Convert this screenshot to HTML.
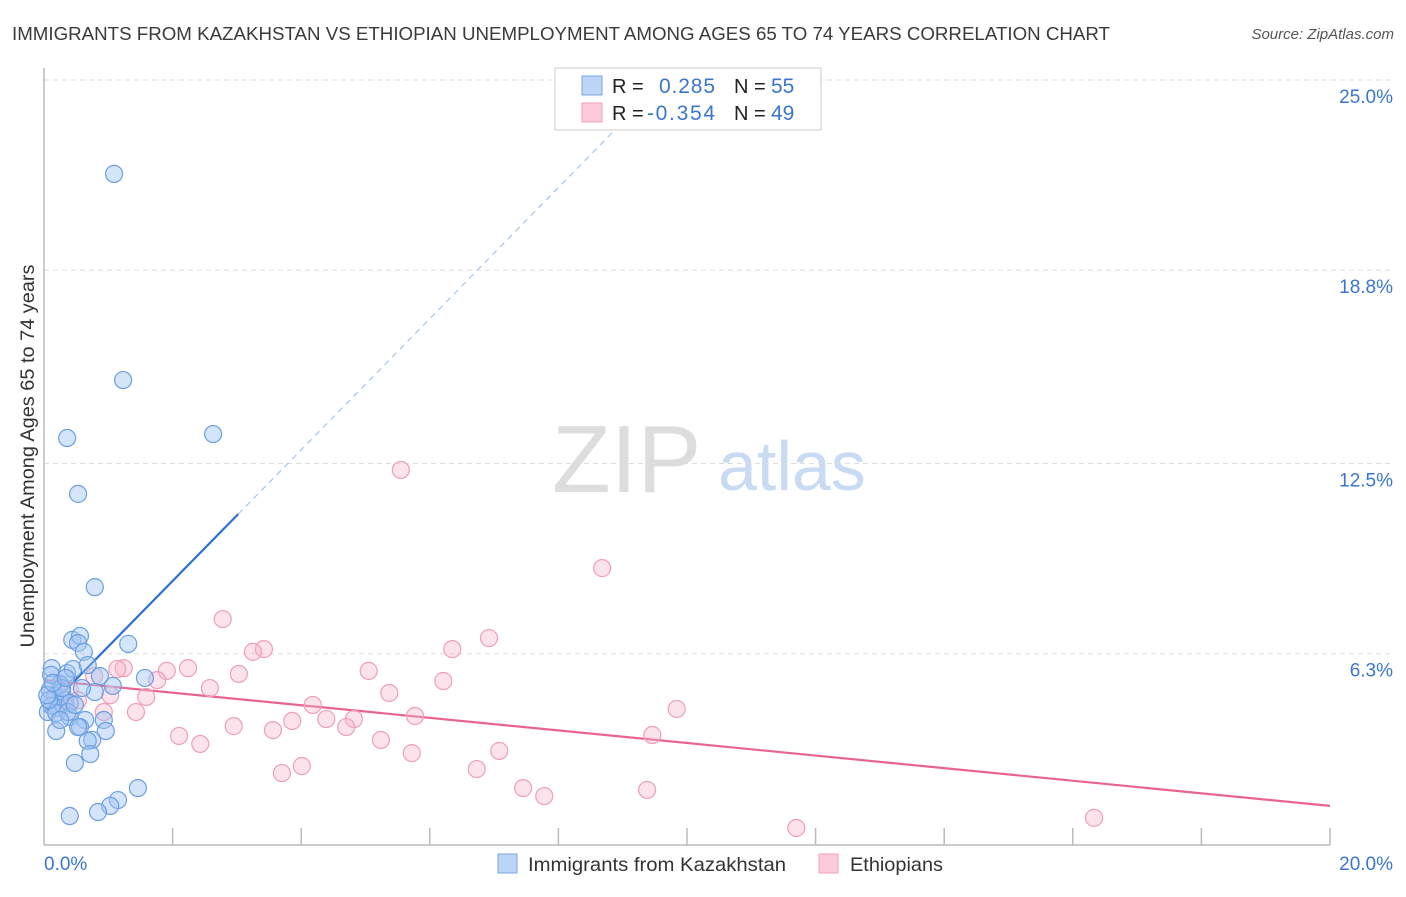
<!DOCTYPE html>
<html><head><meta charset="utf-8"><style>
body{margin:0;background:#fff;font-family:"Liberation Sans",sans-serif}
svg text{font-family:"Liberation Sans",sans-serif}
</style></head><body>
<svg id="chart" width="1406" height="892" xmlns="http://www.w3.org/2000/svg">
<text x="12" y="40" font-size="18.5" fill="#3a3a3a" textLength="1098" lengthAdjust="spacingAndGlyphs">IMMIGRANTS FROM KAZAKHSTAN VS ETHIOPIAN UNEMPLOYMENT AMONG AGES 65 TO 74 YEARS CORRELATION CHART</text>
<text x="1394" y="39" font-size="15" fill="#555" font-style="italic" text-anchor="end">Source: ZipAtlas.com</text>
<g>
<text x="552" y="492" font-size="96" font-family="Liberation Serif" fill="#ddd">ZIP</text>
<text x="718" y="490" font-size="70" fill="#c9daf3">atlas</text>
</g>
<g id="grid"></g>
<g id="axes"></g>
<g id="lines"></g>
<g id="pts"></g>
<text transform="translate(34,456) rotate(-90)" font-size="19" fill="#333" text-anchor="middle" textLength="383" lengthAdjust="spacingAndGlyphs">Unemployment Among Ages 65 to 74 years</text>
<g>
<rect x="555" y="68" width="266" height="62" fill="#fff" stroke="#ccc"/>
<rect x="582" y="76" width="20" height="19" fill="#bcd5f7" stroke="#7aa6e6"/>
<rect x="582" y="103" width="20" height="19" fill="#fccbdb" stroke="#f0a0bb"/>
<text x="612" y="93" font-size="20" fill="#222">R =</text><text x="659" y="93" font-size="21" fill="#3a76d0" textLength="56">0.285</text>
<text x="734" y="93" font-size="20" fill="#222">N =</text><text x="771" y="93" font-size="21" fill="#3a76d0">55</text>
<text x="612" y="120" font-size="20" fill="#222">R =</text><text x="647" y="120" font-size="21" fill="#3a76d0" textLength="68">-0.354</text>
<text x="734" y="120" font-size="20" fill="#222">N =</text><text x="771" y="120" font-size="21" fill="#3a76d0">49</text>
</g>
<g>
<rect x="498" y="854" width="19" height="19" fill="#bcd5f7" stroke="#7aa6e6"/>
<text x="528" y="871" font-size="19.5" fill="#333" textLength="258" lengthAdjust="spacingAndGlyphs">Immigrants from Kazakhstan</text>
<rect x="819" y="854" width="19" height="19" fill="#fccbdb" stroke="#f0a0bb"/>
<text x="850" y="871" font-size="19.5" fill="#333" textLength="93" lengthAdjust="spacingAndGlyphs">Ethiopians</text>
</g>
</svg>
<script>
const yTicks=[25.0,18.8,12.5,6.3];
const yTickLabels=["25.0%","18.8%","12.5%","6.3%"];
const xEndLabels=["0.0%","20.0%"];
const blueX=[1.09,1.23,0.36,2.63,0.53,0.79,0.44,0.56,0.53,0.62,1.31,0.12,0.36,0.45,0.68,1.07,1.57,0.79,0.25,0.09,0.17,0.28,0.33,0.12,0.22,0.40,0.06,0.19,0.40,0.64,0.19,0.56,0.93,0.96,0.53,0.75,0.68,0.72,0.48,1.46,1.15,1.03,0.84,0.40,0.08,0.11,0.28,0.05,0.37,0.48,0.87,0.25,0.59,0.14,0.34];
const blueY=[21.94,15.22,13.33,13.46,11.51,8.47,6.75,6.88,6.65,6.36,6.62,5.83,5.67,5.80,5.93,5.25,5.51,5.05,5.31,5.12,4.92,5.05,4.79,4.60,4.53,4.69,4.40,4.37,4.24,4.14,3.78,3.91,4.14,3.78,3.91,3.49,3.46,3.03,2.74,1.92,1.53,1.34,1.14,1.01,4.79,5.61,5.18,4.95,4.40,4.63,5.57,4.14,5.18,5.35,5.51];
const pinkX=[5.55,8.68,2.78,6.92,3.42,3.25,6.35,2.24,1.91,1.24,1.14,0.78,1.76,5.05,3.03,6.21,2.58,5.37,1.59,4.18,1.43,0.93,5.77,9.84,3.86,4.39,4.82,4.70,2.95,3.56,2.10,9.46,2.43,5.24,7.08,5.72,4.01,3.70,6.73,7.45,7.78,9.38,11.70,16.33,0.40,0.25,0.53,1.03,0.33];
const pinkY=[12.29,9.09,7.43,6.81,6.45,6.36,6.45,5.83,5.74,5.83,5.80,5.57,5.44,5.74,5.64,5.41,5.18,5.02,4.89,4.63,4.40,4.40,4.27,4.50,4.11,4.17,4.17,3.91,3.94,3.81,3.62,3.65,3.36,3.49,3.13,3.06,2.64,2.41,2.54,1.92,1.66,1.86,0.62,0.95,5.12,5.28,4.79,4.95,4.63];
const blueLine=[[0,4.40],[3.02,10.85],[9.64,25.0]];
const pinkLine=[[0,5.44],[20,1.34]];
const NS="http://www.w3.org/2000/svg";
const X0=44,X1=1330,Y0=847,YP=30.68;
const sx=v=>X0+v*(X1-X0)/20, sy=v=>Y0-v*YP;
function mk(tag,attrs,parent){const e=document.createElementNS(NS,tag);for(const k in attrs)e.setAttribute(k,attrs[k]);document.getElementById(parent).appendChild(e);return e;}
yTicks.forEach((t,i)=>{
 const l=mk('line',{x1:X0,x2:1394,y1:sy(t),y2:sy(t),stroke:'#ddd','stroke-dasharray':'5,4'},'grid');
 
 
 const tx=mk('text',{x:1393,y:sy(t)+23,'font-size':19,fill:'#3a76d0','text-anchor':'end'},'grid');
 tx.textContent=yTickLabels[i];
 
 
});
const ax=mk('line',{x1:X0,x2:X0,y1:68,y2:845,stroke:'#bbb','stroke-width':1.5},'axes');


const bx=mk('line',{x1:X0,x2:X1,y1:845,y2:845,stroke:'#bbb','stroke-width':1.5},'axes');


for(let i=1;i<=10;i++){const t=mk('line',{x1:sx(i*2),x2:sx(i*2),y1:828,y2:845,stroke:'#bbb','stroke-width':1.5},'axes');
 
 }
const xl0=mk('text',{x:44,y:870,'font-size':19,fill:'#3a76d0'},'axes');xl0.textContent=xEndLabels[0];


const xl1=mk('text',{x:1393,y:870,'font-size':19,fill:'#3a76d0','text-anchor':'end'},'axes');xl1.textContent=xEndLabels[1];


function pts(xs,ys,fill,stroke,name){xs.forEach((x,i)=>{const c=mk('circle',{cx:sx(x),cy:sy(ys[i]),r:8.5,fill:fill,stroke:stroke,'stroke-width':1.2},'pts');
 
 });}
pts(pinkX,pinkY,'rgba(248,178,200,0.38)','#ee9fb8','ethiopian-point');
pts(blueX,blueY,'rgba(160,196,242,0.45)','#6b9fe2','kazakhstan-point');
const bl=mk('line',{x1:sx(blueLine[0][0]),y1:sy(blueLine[0][1]),x2:sx(blueLine[1][0]),y2:sy(blueLine[1][1]),stroke:'#2a6fd6','stroke-width':2.2},'lines');


const bd=mk('line',{x1:sx(blueLine[1][0]),y1:sy(blueLine[1][1]),x2:sx(blueLine[2][0]),y2:sy(blueLine[2][1]),stroke:'#a8c4ea','stroke-width':1.2,'stroke-dasharray':'6,5'},'lines');


const pl=mk('line',{x1:sx(pinkLine[0][0]),y1:sy(pinkLine[0][1]),x2:sx(pinkLine[1][0]),y2:sy(pinkLine[1][1]),stroke:'#e8648f','stroke-width':2.2},'lines');


</script>
</body></html>
